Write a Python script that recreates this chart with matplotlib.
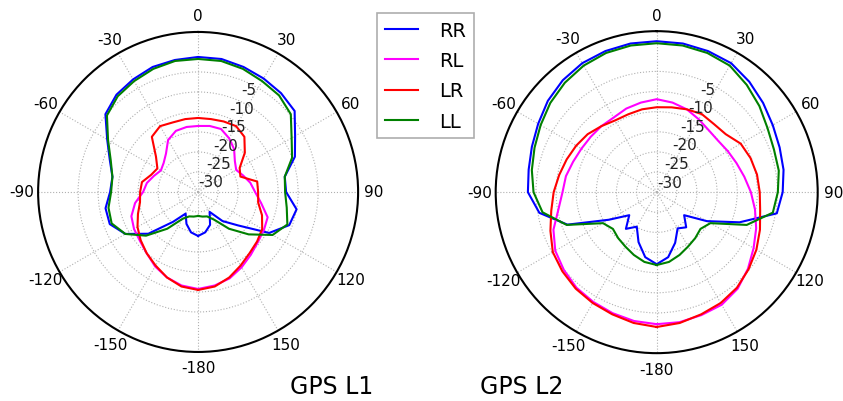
import numpy as np
import matplotlib.pyplot as plt
from matplotlib.transforms import offset_copy

# azimuth in degrees, -180..180 every 10 deg
angles = np.arange(-180, 190, 10)

# GPS L1 patterns (dB)
l1_rr = [-24.0, -24.75, -26.5, -28.75, -25.25, -18.75, -14.0, -11.5, -11.5, -13.0,
         -13.25, -11.5, -8.75, -4.75, -3.25, -2.5, -1.75, -1.5, -1.25, -1.25,
         -1.75, -2.25, -2.75, -3.5, -7.0, -9.25, -13.0, -13.0, -10.0, -10.75,
         -14.5, -22.0, -25.5, -29.25, -26.25, -24.75, -24.0]
l1_rl = [-10.75, -11.25, -12.25, -13.5, -15.0, -16.0, -16.5, -17.25, -19.0, -21.25,
         -22.0, -23.25, -24.25, -23.75, -22.5, -20.0, -18.75, -18.5, -18.5, -18.25,
         -18.25, -19.5, -21.0, -23.0, -24.0, -23.0, -21.75, -20.75, -19.0, -16.5,
         -16.0, -15.5, -14.5, -13.25, -12.0, -11.25, -10.75]
l1_lr = [-10.5, -11.0, -12.25, -13.75, -15.0, -16.25, -17.5, -19.0, -20.25, -20.5,
         -20.75, -22.5, -23.25, -21.25, -17.0, -16.0, -16.5, -16.5, -16.5, -16.5,
         -16.25, -16.0, -17.0, -19.75, -23.0, -23.75, -20.0, -20.0, -19.75, -18.0,
         -16.5, -15.75, -15.0, -13.75, -12.25, -11.0, -10.5]
l1_ll = [-29.0, -28.75, -28.5, -27.25, -23.0, -18.0, -14.0, -12.0, -12.25, -13.25,
         -13.25, -11.75, -9.0, -5.25, -3.75, -3.0, -2.25, -1.75, -1.75, -1.75,
         -2.25, -3.0, -3.5, -4.75, -8.0, -10.0, -13.0, -13.25, -12.5, -11.25,
         -13.5, -18.5, -23.0, -27.0, -28.5, -28.75, -29.0]

# GPS L2 patterns (dB)
l2_rr = [-17.1, -18.6, -21.8, -25.1, -23.1, -26.1, -21.3, -11.4, -5.4, -3.0,
         -2.7, -2.0, -1.0, 0.3, 1.3, 2.0, 2.3, 2.5, 2.5, 2.5,
         2.3, 2.0, 0.8, -0.5, -1.7, -2.5, -3.0, -3.7, -4.7, -13.1,
         -20.6, -26.1, -23.6, -24.6, -21.6, -18.6, -17.1]
l2_rl = [-2.2, -2.5, -3.0, -3.5, -4.0, -4.9, -5.9, -7.7, -10.2, -11.6,
         -12.1, -12.9, -13.4, -13.6, -13.6, -13.6, -12.9, -12.4, -11.9, -12.4,
         -13.1, -14.1, -14.9, -15.1, -14.6, -13.9, -12.9, -11.6, -10.2, -8.7,
         -7.2, -5.4, -3.7, -2.7, -2.5, -2.2, -2.2]
l2_lr = [-1.5, -2.0, -2.7, -3.2, -3.7, -4.4, -5.2, -6.9, -8.4, -9.4,
         -10.4, -11.2, -11.9, -12.6, -13.6, -14.4, -14.4, -14.1, -13.9, -13.6,
         -13.1, -12.6, -12.9, -12.6, -10.9, -10.2, -9.7, -9.4, -8.9, -7.7,
         -6.4, -5.2, -4.0, -3.2, -2.7, -2.0, -1.5]
l2_ll = [-16.9, -17.4, -18.4, -19.4, -20.1, -20.8, -19.6, -11.2, -6.2, -4.4,
         -3.5, -2.7, -1.7, -0.5, 0.5, 1.3, 1.8, 2.0, 2.0, 2.0,
         1.8, 1.3, -0.2, -1.7, -3.2, -4.0, -4.2, -4.9, -5.7, -11.2,
         -19.6, -20.8, -20.1, -19.4, -18.4, -17.4, -16.9]

labels = ["RR", "RL", "LR", "LL"]
colors = ["#0000ff", "#ff00ff", "#ff0000", "#008000"]

theta_ticks = np.arange(0, 360, 30)
theta_labels = ["0", "30", "60", "90", "120", "150",
                "-180", "-150", "-120", "-90", "-60", "-30"]
r_ticks = [-30, -25, -20, -15, -10, -5]

fig = plt.figure(figsize=(8.43, 4.02), dpi=100)
ax1 = fig.add_axes([0.045, 0.122, 0.380, 0.796], projection="polar")
ax2 = fig.add_axes([0.588, 0.119, 0.382, 0.801], projection="polar")

for ax, series in [(ax1, [l1_rr, l1_rl, l1_lr, l1_ll]),
                   (ax2, [l2_rr, l2_rl, l2_lr, l2_ll])]:
    ax.set_theta_zero_location("N")
    ax.set_theta_direction(-1)
    for vals, lab, c in zip(series, labels, colors):
        ax.plot(np.deg2rad(angles), vals, color=c, lw=1.5, label=lab)
    ax.set_ylim(-35, 5)
    ax.set_xticks(np.deg2rad(theta_ticks))
    ax.set_xticklabels([])
    ax.set_yticks(r_ticks)
    ax.set_yticklabels([])
    ax.grid(True, color="#b0b0b0", linestyle=":", linewidth=0.8)
    ax.spines["polar"].set_linewidth(1.5)

    # angle labels centred just outside the rim
    for t, s in zip(theta_ticks, theta_labels):
        a = np.deg2rad(t)
        ax.text(0.5 + 0.55 * np.sin(a), 0.5 + 0.55 * np.cos(a), s,
                transform=ax.transAxes, ha="center", va="center", fontsize=11)

    # radial labels along the 22.5 deg spoke
    rtrans = offset_copy(ax.transData, fig=fig, x=5, y=-8.5, units="dots")
    for r in r_ticks:
        ax.text(np.deg2rad(22.5), r, str(r), transform=rtrans,
                ha="center", va="center", fontsize=11, color="#222222")

handles, labs = ax1.get_legend_handles_labels()
leg = fig.legend(handles, labs, loc="upper left", bbox_to_anchor=(0.447, 0.965),
                 borderaxespad=0, fontsize=14, labelspacing=0.58, handlelength=1.7,
                 handletextpad=1.1, fancybox=False, edgecolor="#999999")
leg.get_frame().set_linewidth(1.2)

fig.text(0.393, 0.037, "GPS L1", fontsize=17, ha="center", va="center")
fig.text(0.619, 0.037, "GPS L2", fontsize=17, ha="center", va="center")

fig.savefig("out.png", dpi=100)
